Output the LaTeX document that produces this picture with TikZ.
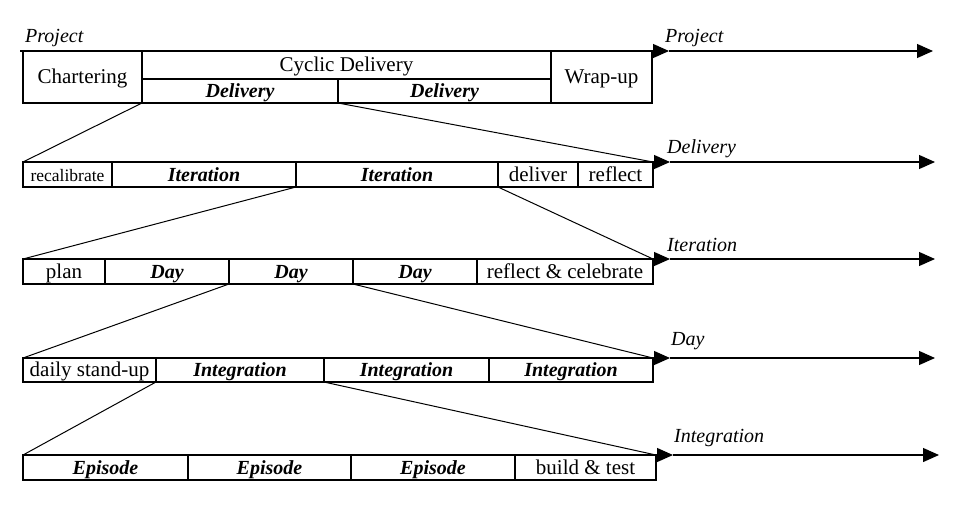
\documentclass[tikz,border=0pt]{standalone}
\usepackage{fontspec}
\setmainfont{Liberation Serif}
\usetikzlibrary{positioning,arrows.meta}
\tikzset{
  seg/.style   = {draw, line width=1.1pt, outer sep=0pt, inner sep=0pt,
                  text height=15pt, text depth=2pt,
                  minimum height=25pt, font=\fontsize{21}{23}\selectfont},
  bseg/.style  = {seg, font=\fontsize{20}{22}\selectfont\bfseries\itshape},
  level/.style = {font=\fontsize{20}{22}\selectfont\itshape, inner sep=0pt, anchor=base west},
  tl/.style    = {line width=1.2pt, -{Triangle[length=16pt,width=14pt]}},
  zoom/.style  = {line width=1pt},
}
\begin{document}
\begin{tikzpicture}[x=1pt,y=-1pt]
    \useasboundingbox (0,0) rectangle (969,528);
    % Row 1: project
    \node[seg, anchor=north west, minimum width=119pt, minimum height=52pt] (chart) at (23,51) {Chartering};
    \node[seg, anchor=north west, minimum width=409pt, minimum height=28pt] (cyc) at (chart.north east) {Cyclic Delivery};
    \node[bseg, anchor=north west, minimum width=196pt, minimum height=24pt] (del1) at (cyc.south west) {Delivery};
    \node[bseg, right=0pt of del1, minimum width=213pt, minimum height=24pt] (del2) {Delivery};
    \node[seg, anchor=north west, minimum width=101pt, minimum height=52pt] (wrap) at (cyc.north east) {Wrap-up};
    % Row 2: delivery
    \node[seg, anchor=north west, minimum width=89pt, font=\fontsize{17.5}{19}\selectfont] (recal) at (23,162) {recalibrate};
    \node[bseg, right=0pt of recal, minimum width=184pt] (it1) {Iteration};
    \node[bseg, right=0pt of it1, minimum width=202pt] (it2) {Iteration};
    \node[seg, right=0pt of it2, minimum width=80pt] (deliver) {deliver};
    \node[seg, right=0pt of deliver, minimum width=75pt] (reflect) {reflect};
    % Row 3: iteration
    \node[seg, anchor=north west, minimum width=82pt] (plan) at (23,259) {plan};
    \node[bseg, right=0pt of plan, minimum width=124pt] (day1) {Day};
    \node[bseg, right=0pt of day1, minimum width=124pt] (day2) {Day};
    \node[bseg, right=0pt of day2, minimum width=124pt] (day3) {Day};
    \node[seg, right=0pt of day3, minimum width=176pt] (refcel) {reflect \& celebrate};
    % Row 4: day
    \node[seg, anchor=north west, minimum width=133pt, minimum height=24pt] (standup) at (23,358) {daily stand-up};
    \node[bseg, right=0pt of standup, minimum width=168pt, minimum height=24pt] (int1) {Integration};
    \node[bseg, right=0pt of int1, minimum width=165pt, minimum height=24pt] (int2) {Integration};
    \node[bseg, right=0pt of int2, minimum width=164pt, minimum height=24pt] (int3) {Integration};
    % Row 5: integration
    \node[bseg, anchor=north west, minimum width=165pt] (ep1) at (23,455) {Episode};
    \node[bseg, right=0pt of ep1, minimum width=163pt] (ep2) {Episode};
    \node[bseg, right=0pt of ep2, minimum width=164pt] (ep3) {Episode};
    \node[seg, right=0pt of ep3, minimum width=141pt] (bt) {build \& test};

    % level names
    \node[level] (lproj) at (25,42) {Project};
    \node[level] (rproj) at (665,42) {Project};
    \node[level] (rdel) at (667,153) {Delivery};
    \node[level] (rit) at (667,251) {Iteration};
    \node[level] (rday) at (671,345) {Day};
    \node[level] (rint) at (674,442) {Integration};

    % timelines
    \coordinate (projend) at (933,51);
    \coordinate (delend) at (935,162);
    \coordinate (itend) at (935,259);
    \coordinate (dayend) at (935,358);
    \coordinate (intend) at (939,455);
    \draw[tl] ([xshift=-3pt]chart.north west) -- ([xshift=17pt]wrap.north east);
    \draw[tl] ([xshift=17pt]wrap.north east) -- (projend);
    \draw[tl] (recal.north west) -- ([xshift=17pt]reflect.north east);
    \draw[tl] ([xshift=17pt]reflect.north east) -- (delend);
    \draw[tl] (plan.north west) -- ([xshift=17pt]refcel.north east);
    \draw[tl] ([xshift=17pt]refcel.north east) -- (itend);
    \draw[tl] (standup.north west) -- ([xshift=17pt]int3.north east);
    \draw[tl] ([xshift=17pt]int3.north east) -- (dayend);
    \draw[tl] (ep1.north west) -- ([xshift=17pt]bt.north east);
    \draw[tl] ([xshift=17pt]bt.north east) -- (intend);

    % zoom lines
    \draw[zoom] (del1.south west) -- (recal.north west);
    \draw[zoom] (del1.south east) -- (reflect.north east);
    \draw[zoom] (it2.south west) -- (plan.north west);
    \draw[zoom] (it2.south east) -- (refcel.north east);
    \draw[zoom] (day2.south west) -- (standup.north west);
    \draw[zoom] (day2.south east) -- (int3.north east);
    \draw[zoom] (int1.south west) -- (ep1.north west);
    \draw[zoom] (int1.south east) -- (bt.north east);
\end{tikzpicture}
\end{document}
